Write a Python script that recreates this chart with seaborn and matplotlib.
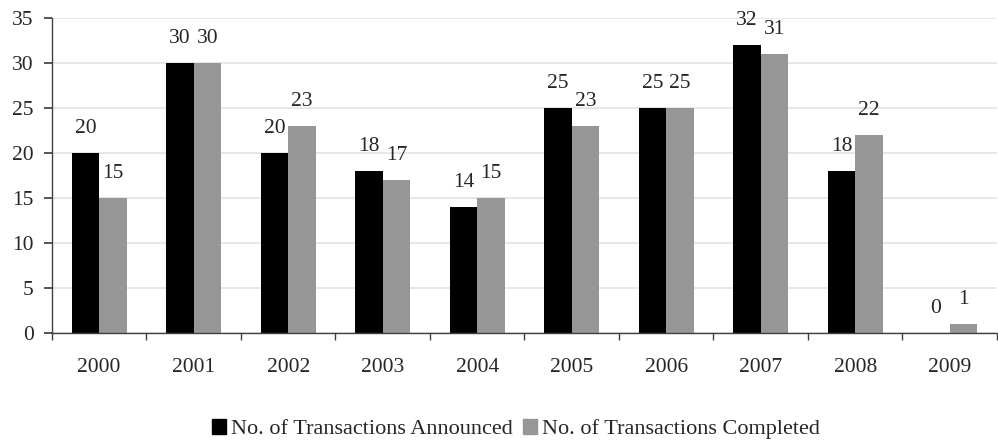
import matplotlib
matplotlib.use("Agg")
import matplotlib.pyplot as plt
import seaborn as sns
import pandas as pd
import numpy as np

years = ["2000", "2001", "2002", "2003", "2004", "2005", "2006", "2007", "2008", "2009"]
announced = [20, 30, 20, 18, 14, 25, 25, 32, 18, 0]
completed = [15, 30, 23, 17, 15, 23, 25, 31, 22, 1]
series_names = ["No. of Transactions Announced", "No. of Transactions Completed"]
colors = ["#000000", "#969696"]

sns.set_theme(style="white")
plt.rcParams["font.family"] = ["Liberation Serif", "DejaVu Serif"]
FS = 15.5
plt.rcParams["font.size"] = FS

df = pd.DataFrame({
    "Year": years * 2,
    "Count": announced + completed,
    "Series": [series_names[0]] * len(years) + [series_names[1]] * len(years),
})

fig = plt.figure(figsize=(9.98, 4.41), dpi=100)
ax = fig.add_axes([0.052, 0.245, 0.947, 0.714])

sns.barplot(data=df, x="Year", y="Count", hue="Series", palette=colors,
            width=0.58, gap=0, saturation=1, ax=ax, legend=False, errorbar=None,
            linewidth=0, edgecolor="none")

ax.set_ylim(0, 35)
ax.set_xlim(-0.5, len(years) - 0.5)
ax.set_yticks(range(0, 36, 5))
ax.yaxis.grid(True, color="#e3e3e3", linewidth=1.2)
ax.set_axisbelow(True)
ax.set_xlabel("")
ax.set_ylabel("")

for s in ["top", "right"]:
    ax.spines[s].set_visible(False)
for s in ["left", "bottom"]:
    ax.spines[s].set_color("#404040")
    ax.spines[s].set_linewidth(1)

ax.tick_params(axis="y", which="major", length=6, color="#404040", direction="out",
               labelsize=FS, pad=7, left=True)
ax.tick_params(axis="x", which="major", length=0, labelsize=FS, pad=18)
ax.set_xticks(np.arange(-0.5, len(years), 1), minor=True)
ax.tick_params(axis="x", which="minor", length=5, color="#404040", direction="out", bottom=True)

for container in ax.containers:
    ax.bar_label(container, fmt="%d", padding=11, fontsize=FS)

handles = [plt.Rectangle((0, 0), 1, 1, color=c) for c in colors]
fig.legend(handles, series_names, loc="center", bbox_to_anchor=(0.517, 0.027),
           ncol=2, frameon=False, fontsize=16, handlelength=0.63, handleheight=0.63,
           handletextpad=0.23, columnspacing=0.45, borderpad=0, borderaxespad=0)

fig.savefig("out.png", dpi=100)
